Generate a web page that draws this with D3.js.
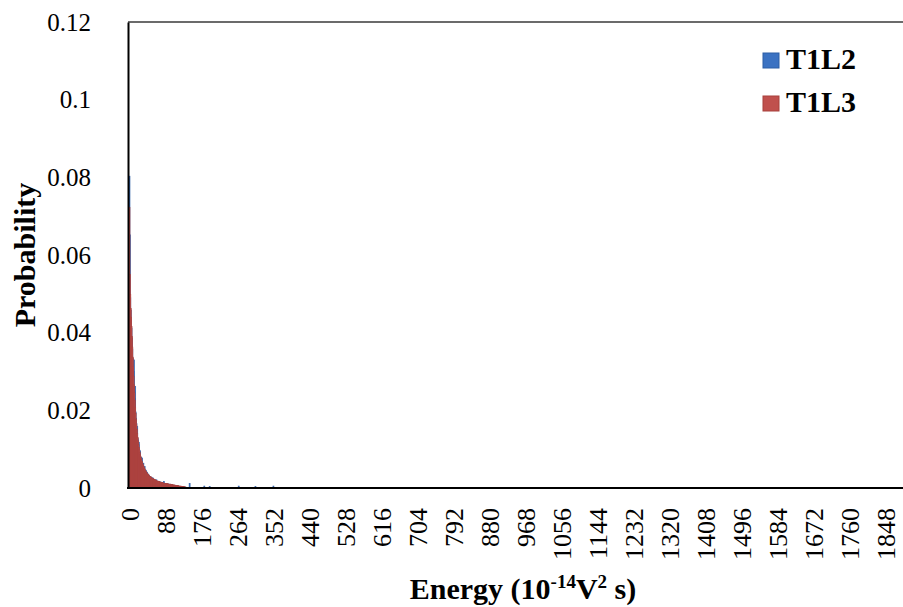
<!DOCTYPE html>
<html>
<head>
<meta charset="utf-8">
<script src="https://cdn.jsdelivr.net/npm/d3@7"></script>
<style>
  html, body { margin: 0; padding: 0; background: #fff; }
  svg { display: block; }
  text { font-family: "Liberation Serif", "Times New Roman", serif; fill: #000; }
</style>
</head>
<body>
<svg width="903" height="607"></svg>
<script>
"use strict";

// energy bins (10^-14 V^2 s), one category per unit
const binCount = 1900;
const xTickValues = [0, 88, 176, 264, 352, 440, 528, 616, 704, 792, 880, 968,
  1056, 1144, 1232, 1320, 1408, 1496, 1584, 1672, 1760, 1848];
const yTickValues = [0, 0.02, 0.04, 0.06, 0.08, 0.1, 0.12];
const yTickLabels = ["0", "0.02", "0.04", "0.06", "0.08", "0.1", "0.12"];

const seriesNames = ["T1L2", "T1L3"];
const seriesColors = ["#3b72c2", "#c0504d"];
const seriesStrokes = ["#2d5ea6", "#a8403d"];

// probability per bin, starting at bin 0
const t1l2Head = [
  0.0803, 0.0652, 0.0490, 0.0458, 0.0432, 0.0412, 0.0386, 0.0358, 0.0334, 0.0318,
  0.0300, 0.0330, 0.0248, 0.0230, 0.0262, 0.0196, 0.0180, 0.0166, 0.0154, 0.0158,
  0.0128, 0.0124, 0.0110, 0.0118, 0.0097, 0.0090, 0.0096, 0.0080, 0.0076, 0.0079,
  0.0068, 0.0077, 0.0061, 0.0059, 0.0064, 0.0053, 0.0050, 0.0055, 0.0046, 0.0043,
  0.0046, 0.0039, 0.0038, 0.0041, 0.0035, 0.0033, 0.0036, 0.0031, 0.0033, 0.0029,
  0.0028, 0.0030, 0.0027, 0.0025, 0.0027, 0.0024, 0.0023, 0.0026, 0.0022, 0.0021,
  0.0023, 0.0020, 0.0021, 0.0019, 0.0020, 0.0018, 0.0021, 0.0017, 0.0016, 0.0017,
  0.0016, 0.0017, 0.0015, 0.0016, 0.0014, 0.0016, 0.0013, 0.0014, 0.0015, 0.0012,
  0.0013, 0.0014, 0.0012, 0.0011, 0.0017, 0.0011, 0.0011, 0.0012, 0.0010, 0.0011,
  0.0010, 0.0011, 0.0009, 0.0010, 0.0011, 0.0009, 0.0008, 0.0009, 0.0008, 0.0010,
  0.0009, 0.0007, 0.0008, 0.0007, 0.0008, 0.0008, 0.0006, 0.0007, 0.0006, 0.0007,
  0.0007, 0.0006, 0.0006, 0.0005, 0.0006, 0.0005, 0.0005, 0.0005, 0.0004, 0.0005,
  0.0004, 0.0005, 0.0004, 0.0004, 0.0003, 0.0004, 0.0004, 0.0003, 0.0003, 0.0003,
  0.0003, 0.0002, 0.0003, 0.0002, 0.0002, 0.0002, 0.0001, 0.0002, 0.0001, 0.0001
];
// isolated counts further out: [bin, probability]
const t1l2Tail = [[147, 0.0012], [183, 0.0005], [196, 0.0004], [267, 0.0005], [308, 0.0004], [352, 0.0005]];

const t1l3Head = [
  0.0722, 0.0550, 0.0498, 0.0462, 0.0440, 0.0416, 0.0390, 0.0363, 0.0337, 0.0312,
  0.0288, 0.0266, 0.0245, 0.0226, 0.0208, 0.0192, 0.0177, 0.0163, 0.0151, 0.0140,
  0.0130, 0.0121, 0.0112, 0.0105, 0.0098, 0.0092, 0.0087, 0.0082, 0.0077, 0.0073,
  0.0069, 0.0066, 0.0062, 0.0060, 0.0056, 0.0054, 0.0051, 0.0049, 0.0047, 0.0044,
  0.0043, 0.0040, 0.0039, 0.0037, 0.0036, 0.0034, 0.0035, 0.0032, 0.0031, 0.0030,
  0.0029, 0.0028, 0.0029, 0.0026, 0.0026, 0.0025, 0.0024, 0.0025, 0.0023, 0.0022,
  0.0022, 0.0021, 0.0022, 0.0020, 0.0019, 0.0020, 0.0018, 0.0018, 0.0017, 0.0018,
  0.0017, 0.0016, 0.0016, 0.0017, 0.0015, 0.0015, 0.0014, 0.0015, 0.0014, 0.0013,
  0.0014, 0.0013, 0.0013, 0.0012, 0.0013, 0.0012, 0.0012, 0.0011, 0.0012, 0.0011,
  0.0011, 0.0012, 0.0010, 0.0011, 0.0010, 0.0010, 0.0009, 0.0010, 0.0009, 0.0009,
  0.0010, 0.0008, 0.0009, 0.0008, 0.0008, 0.0009, 0.0007, 0.0008, 0.0007, 0.0007,
  0.0008, 0.0006, 0.0007, 0.0006, 0.0007, 0.0006, 0.0005, 0.0006, 0.0005, 0.0006,
  0.0005, 0.0005, 0.0004, 0.0005, 0.0004, 0.0004, 0.0005, 0.0003, 0.0004, 0.0003,
  0.0003, 0.0004, 0.0003, 0.0002, 0.0003, 0.0002, 0.0003, 0.0002, 0.0002, 0.0001
];
const t1l3Tail = [];

// plot box in pixels (bars start just right of the 2px axis line)
const plot = { axisX: 128, left: 129, right: 906, top: 22, bottom: 488 };

const svg = d3.select("svg");

const x = d3.scaleBand()
  .domain(d3.range(binCount))
  .range([plot.left, plot.right])
  .padding(0);

const y = d3.scaleLinear()
  .domain([0, 0.12])
  .range([plot.bottom, plot.top]);

// head array + tail pairs -> list of {bin, p}
const toBins = (head, tail) =>
  head.map((p, i) => ({ bin: i, p }))
    .concat(tail.map(([bin, p]) => ({ bin, p })));

const series = [toBins(t1l2Head, t1l2Tail), toBins(t1l3Head, t1l3Tail)];

// top frame line
svg.append("line")
  .attr("x1", plot.axisX).attr("x2", plot.right)
  .attr("y1", plot.top).attr("y2", plot.top)
  .attr("stroke", "#3a3a3a").attr("stroke-width", 1.5);

// bars: blue first, red drawn over it; keep each at least 1px wide like the original renderer
const barW = Math.max(x.bandwidth(), 1);
series.forEach((bins, si) => {
  svg.append("g")
    .selectAll("rect")
    .data(bins)
    .join("rect")
    .attr("x", (d) => x(d.bin))
    .attr("width", barW)
    .attr("y", (d) => y(d.p))
    .attr("height", (d) => y(0) - y(d.p))
    .attr("fill", seriesColors[si])
    .attr("stroke", seriesStrokes[si])
    .attr("stroke-width", 0.6);
});

// y axis
const yAxis = d3.axisLeft(y)
  .tickValues(yTickValues)
  .tickFormat((d, i) => yTickLabels[i])
  .tickSize(0)
  .tickPadding(37);

const gy = svg.append("g")
  .attr("transform", `translate(${plot.axisX},0)`)
  .call(yAxis);
gy.select(".domain").attr("stroke", "#000").attr("stroke-width", 2);
gy.selectAll("text")
  .style("font-family", "'Liberation Serif', serif")
  .style("font-size", "25px");

// x axis with vertical labels
const xAxis = d3.axisBottom(x)
  .tickValues(xTickValues)
  .tickSize(0);

const gx = svg.append("g")
  .attr("transform", `translate(0,${plot.bottom})`)
  .call(xAxis);
gx.select(".domain")
  .attr("d", `M${plot.axisX - 1},0H${plot.right}`)
  .attr("stroke", "#000").attr("stroke-width", 2);
gx.selectAll("text")
  .style("font-family", "'Liberation Serif', serif")
  .style("font-size", "26px")
  .attr("text-anchor", "end")
  .attr("transform", "translate(1,20) rotate(-90)")
  .attr("x", 0)
  .attr("y", 0)
  .attr("dy", "0.34em");

// axis titles
svg.append("text")
  .attr("transform", "translate(24,255) rotate(-90)")
  .attr("text-anchor", "middle")
  .attr("dy", "0.35em")
  .style("font-size", "30px")
  .style("font-weight", "bold")
  .text("Probability");

const xTitle = svg.append("text")
  .attr("x", 523)
  .attr("y", 599)
  .attr("text-anchor", "middle")
  .style("font-size", "30px")
  .style("font-weight", "bold");
xTitle.append("tspan").text("Energy (10");
xTitle.append("tspan").attr("dy", -11).style("font-size", "19px").text("-14");
xTitle.append("tspan").attr("dy", 11).text("V");
xTitle.append("tspan").attr("dy", -11).style("font-size", "19px").text("2");
xTitle.append("tspan").attr("dy", 11).text(" s)");

// legend
const legend = svg.append("g").attr("transform", "translate(763,53)");
seriesNames.forEach((name, i) => {
  const row = legend.append("g").attr("transform", `translate(0,${i * 43})`);
  row.append("rect")
    .attr("width", 16).attr("height", 15)
    .attr("fill", seriesColors[i])
    .attr("stroke", seriesStrokes[i]);
  row.append("text")
    .attr("x", 23)
    .attr("y", 16)
    .style("font-size", "30px")
    .style("font-weight", "bold")
    .text(name);
});
</script>
</body>
</html>
